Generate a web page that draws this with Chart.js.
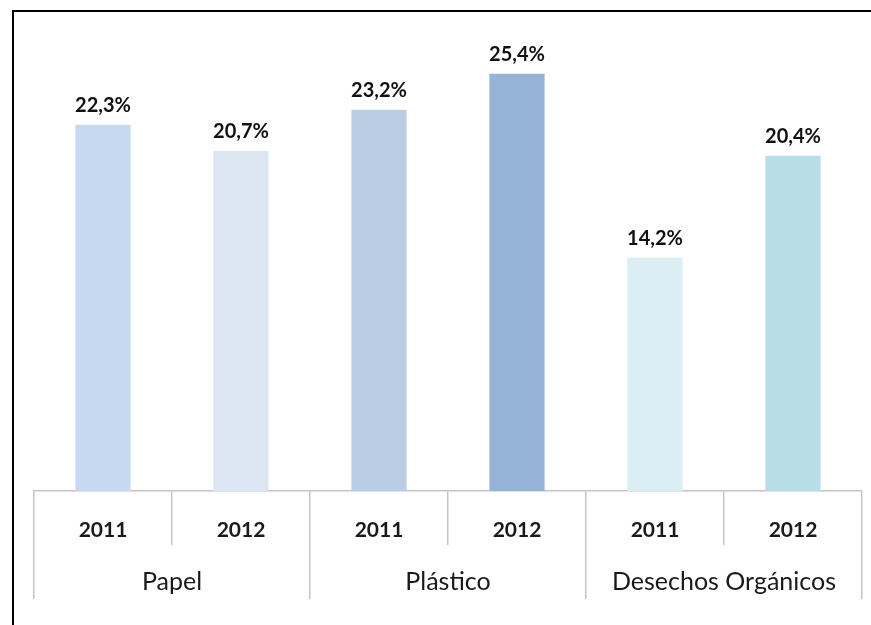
<!DOCTYPE html>
<html>
<head>
<meta charset="utf-8">
<script src="https://cdn.jsdelivr.net/npm/chart.js@4/dist/chart.umd.min.js"></script>
<style>
  html, body { margin: 0; padding: 0; background: #fff; overflow: hidden; }
  #wrap { position: relative; width: 871px; height: 625px; }
  #bar-chart { display: block; }
  #frame { position: absolute; left: 12px; top: 10px; right: 0; bottom: 0;
           border-left: 2px solid #000; border-top: 2px solid #000; pointer-events: none; }
</style>
</head>
<body>
<div id="wrap">
  <canvas id="bar-chart" width="871" height="625"></canvas>
  <div id="frame"></div>
</div>
<script>
const years = ["2011", "2012", "2011", "2012", "2011", "2012"];
const groups = ["Papel", "Plástico", "Desechos Orgánicos"];
const values = [22.3, 20.7, 23.2, 25.4, 14.2, 20.4];
const barColors = ["#c6d9f1", "#dce6f2", "#b9cde5", "#95b3d7", "#dbeef4", "#b7dde8"];

const lineColor = "#c4c4c4";

// percentage labels above each bar
const valueLabels = {
  id: 'valueLabels',
  afterDatasetsDraw(chart) {
    const ctx = chart.ctx;
    const meta = chart.getDatasetMeta(0);
    ctx.save();
    ctx.font = "bold 20px Lato";
    ctx.fillStyle = "#111";
    ctx.textAlign = "center";
    ctx.textBaseline = "alphabetic";
    meta.data.forEach((bar, i) => {
      ctx.fillText(values[i].toFixed(1).replace('.', ',') + '%', bar.x, bar.y - 13);
    });
    ctx.restore();
  }
};

new Chart(document.getElementById("bar-chart"), {
  type: 'bar',
  data: {
    labels: years,
    datasets: [{
      data: values,
      backgroundColor: barColors,
      categoryPercentage: 1,
      barPercentage: 0.4
    }]
  },
  options: {
    responsive: false,
    animation: false,
    devicePixelRatio: 1,
    layout: { padding: { top: 31, left: 34, right: 9, bottom: 26 } },
    plugins: {
      legend: { display: false },
      tooltip: { enabled: false }
    },
    scales: {
      y: {
        display: false,
        min: 0,
        max: 28
      },
      x: {
        position: 'bottom',
        border: { display: true, color: lineColor, width: 1.5 },
        grid: { offset: true, drawOnChartArea: false, color: lineColor, lineWidth: 1.5, tickLength: 54 },
        ticks: { padding: -27, color: "#1a1a1a", font: { family: "Lato", size: 21, weight: "bold" } },
        afterFit(s) { s.height = 54; }
      },
      x2: {
        type: 'category',
        labels: groups,
        position: 'bottom',
        offset: true,
        border: { display: false },
        grid: { offset: true, drawOnChartArea: false, color: lineColor, lineWidth: 1.5, tickLength: 54 },
        ticks: { padding: -32, color: "#1a1a1a", font: { family: "Lato", size: 25 } },
        afterFit(s) { s.height = 54; }
      }
    }
  },
  plugins: [valueLabels]
});
</script>
</body>
</html>
